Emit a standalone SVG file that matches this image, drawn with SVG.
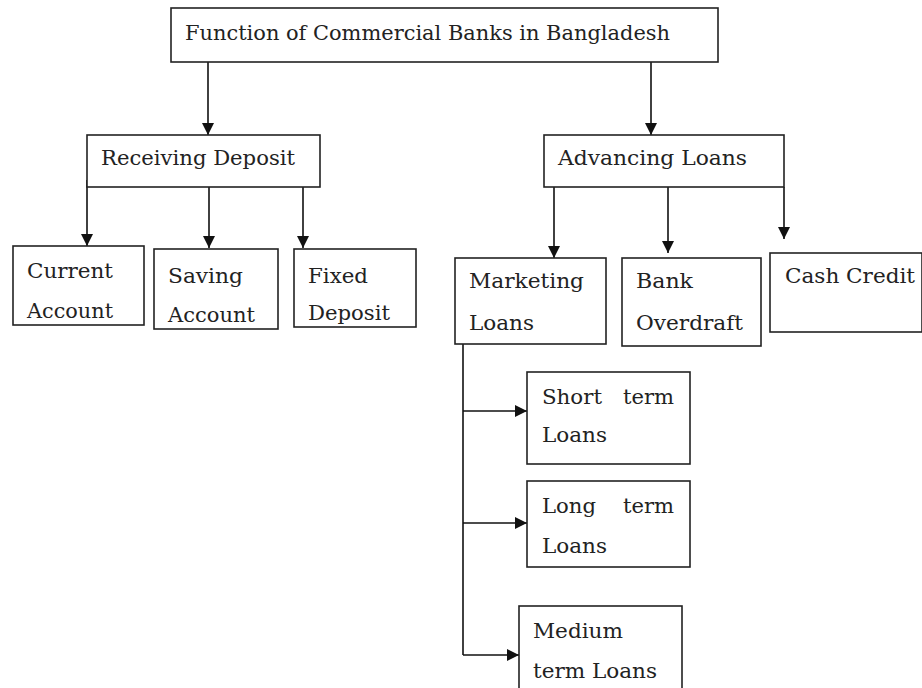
<svg xmlns="http://www.w3.org/2000/svg" width="922" height="688" viewBox="0 0 922 688">
<defs>
<marker id="ah" markerUnits="userSpaceOnUse" markerWidth="12" markerHeight="12" viewBox="0 0 12 12" refX="12" refY="6" orient="auto">
<path d="M0,0 L12,6 L0,12 Z" fill="#111"/>
</marker>
<style>
.box{fill:#fff;stroke:#222;stroke-width:1.6}
.t{font-family:"DejaVu Serif","Liberation Serif",serif;font-size:21px;fill:#222}
.c{fill:none;stroke:#111;stroke-width:1.6}
.a{fill:none;stroke:#111;stroke-width:1.6;marker-end:url(#ah)}
</style>
</defs>
<rect width="922" height="688" fill="#fff"/>
<g id="connectors">
<line class="a" x1="208" y1="62" x2="208" y2="135"/>
<line class="a" x1="651" y1="62" x2="651" y2="135"/>
<line class="a" x1="87" y1="180" x2="87" y2="246"/>
<line class="a" x1="209" y1="187" x2="209" y2="248"/>
<line class="a" x1="303" y1="187" x2="303" y2="248"/>
<line class="a" x1="554" y1="187" x2="554" y2="258"/>
<line class="a" x1="668" y1="187" x2="668" y2="253"/>
<line class="a" x1="784" y1="187" x2="784" y2="239"/>
<line class="c" x1="463" y1="344" x2="463" y2="655"/>
<line class="a" x1="463" y1="411" x2="527" y2="411"/>
<line class="a" x1="463" y1="523" x2="527" y2="523"/>
<line class="a" x1="463" y1="655" x2="519" y2="655"/>
</g>
<g id="n-top"><rect class="box" x="171" y="8" width="547" height="54"/><text class="t" x="185" y="40" textLength="485" lengthAdjust="spacingAndGlyphs">Function of Commercial Banks in Bangladesh</text></g>
<g id="n-receiving"><rect class="box" x="87" y="135" width="233" height="52"/><text class="t" x="101" y="165" textLength="194" lengthAdjust="spacingAndGlyphs">Receiving Deposit</text></g>
<g id="n-advancing"><rect class="box" x="544" y="135" width="240" height="52"/><text class="t" x="558" y="165" textLength="189" lengthAdjust="spacingAndGlyphs">Advancing Loans</text></g>
<g id="n-current"><rect class="box" x="13" y="246" width="131" height="79"/><text class="t" x="27" y="278" textLength="86" lengthAdjust="spacingAndGlyphs">Current</text><text class="t" x="27" y="318" textLength="86" lengthAdjust="spacingAndGlyphs">Account</text></g>
<g id="n-saving"><rect class="box" x="154" y="249" width="124" height="80"/><text class="t" x="168" y="283" textLength="75" lengthAdjust="spacingAndGlyphs">Saving</text><text class="t" x="168" y="322" textLength="87" lengthAdjust="spacingAndGlyphs">Account</text></g>
<g id="n-fixed"><rect class="box" x="294" y="249" width="122" height="78"/><text class="t" x="308" y="283" textLength="60" lengthAdjust="spacingAndGlyphs">Fixed</text><text class="t" x="308" y="320" textLength="82" lengthAdjust="spacingAndGlyphs">Deposit</text></g>
<g id="n-marketing"><rect class="box" x="455" y="258" width="151" height="86"/><text class="t" x="469" y="288" textLength="115" lengthAdjust="spacingAndGlyphs">Marketing</text><text class="t" x="469" y="330" textLength="65" lengthAdjust="spacingAndGlyphs">Loans</text></g>
<g id="n-overdraft"><rect class="box" x="622" y="258" width="139" height="88"/><text class="t" x="636" y="288" textLength="57" lengthAdjust="spacingAndGlyphs">Bank</text><text class="t" x="636" y="330" textLength="107" lengthAdjust="spacingAndGlyphs">Overdraft</text></g>
<g id="n-cash"><rect class="box" x="770" y="253" width="152" height="79"/><text class="t" x="785" y="283" textLength="130" lengthAdjust="spacingAndGlyphs">Cash Credit</text></g>
<g id="n-short"><rect class="box" x="527" y="372" width="163" height="92"/><text class="t" x="542" y="404" textLength="60" lengthAdjust="spacingAndGlyphs">Short</text><text class="t" x="623" y="404" textLength="51" lengthAdjust="spacingAndGlyphs">term</text><text class="t" x="542" y="442" textLength="65" lengthAdjust="spacingAndGlyphs">Loans</text></g>
<g id="n-long"><rect class="box" x="527" y="481" width="163" height="86"/><text class="t" x="542" y="513" textLength="54" lengthAdjust="spacingAndGlyphs">Long</text><text class="t" x="623" y="513" textLength="51" lengthAdjust="spacingAndGlyphs">term</text><text class="t" x="542" y="553" textLength="65" lengthAdjust="spacingAndGlyphs">Loans</text></g>
<g id="n-medium"><rect class="box" x="519" y="606" width="163" height="90"/><text class="t" x="533" y="638" textLength="90" lengthAdjust="spacingAndGlyphs">Medium</text><text class="t" x="533" y="678" textLength="124" lengthAdjust="spacingAndGlyphs">term Loans</text></g>
</svg>
